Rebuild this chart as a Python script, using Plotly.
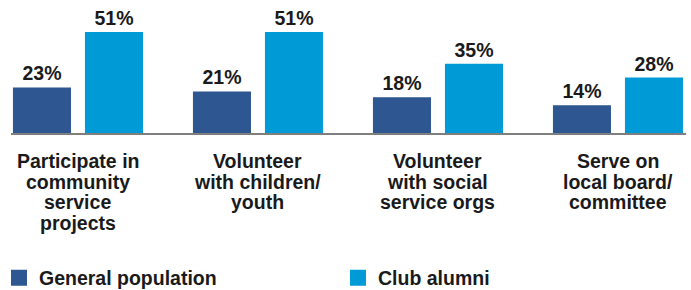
import plotly.graph_objects as go

categories = ["Participate in community service projects",
              "Volunteer with children/ youth",
              "Volunteer with social service orgs",
              "Serve on local board/ committee"]
category_lines = [["Participate in", "community", "service", "projects"],
                  ["Volunteer", "with children/", "youth"],
                  ["Volunteer", "with social", "service orgs"],
                  ["Serve on", "local board/", "committee"]]
general_population = [23, 21, 18, 14]
club_alumni = [51, 51, 35, 28]
series_names = ["General population", "Club alumni"]
colors = ["#2E5690", "#009AD7"]

FONT = "Liberation Sans, Arial, sans-serif"
TXT = "#1a1a1a"

fig = go.Figure()
for name, vals, col in zip(series_names, [general_population, club_alumni], colors):
    fig.add_trace(go.Bar(
        x=categories, y=vals, name=name, marker=dict(color=col, line=dict(width=0)),
        text=[f"{v}%" for v in vals], textposition="outside", cliponaxis=False,
        textfont=dict(family=FONT, size=19.5, color=TXT, weight="bold"), showlegend=False,
    ))
    # legend entry with larger square swatch
    fig.add_trace(go.Scatter(
        x=[None], y=[None], mode="markers", name=name,
        marker=dict(symbol="square", size=16, color=col, line=dict(width=0)),
    ))

for cat, lines in zip(categories, category_lines):
    for i, ln in enumerate(lines):
        fig.add_annotation(x=cat, xref="x", y=0, yref="paper", text=f"<b>{ln}</b>",
                           showarrow=False, yanchor="top", xanchor="center",
                           yshift=-15 - 20.5 * i,
                           font=dict(family=FONT, size=19.5, color=TXT))

fig.update_layout(
    width=691, height=290,
    margin=dict(l=11, r=5, t=10, b=157, autoexpand=False),
    paper_bgcolor="white", plot_bgcolor="white",
    barmode="group", bargap=0.2, bargroupgap=0.194,
    font=dict(family=FONT, color=TXT),
    legend=dict(orientation="h", x=-0.0178, xanchor="left", y=-1.02, yanchor="top",
                font=dict(family=FONT, size=19.5, color=TXT, weight="bold"),
                entrywidth=294, entrywidthmode="pixels", itemwidth=30,
                bgcolor="rgba(0,0,0,0)"),
    xaxis=dict(range=[-0.372, 3.378], showticklabels=False, showgrid=False,
               showline=True, linecolor="#7f7f7f", linewidth=2, ticks="", zeroline=False),
    yaxis=dict(range=[0, 62.1], visible=False, showgrid=False, zeroline=False),
)

fig.write_html("out.html", config={"displayModeBar": False},
               post_script="document.body.style.margin='0';")
